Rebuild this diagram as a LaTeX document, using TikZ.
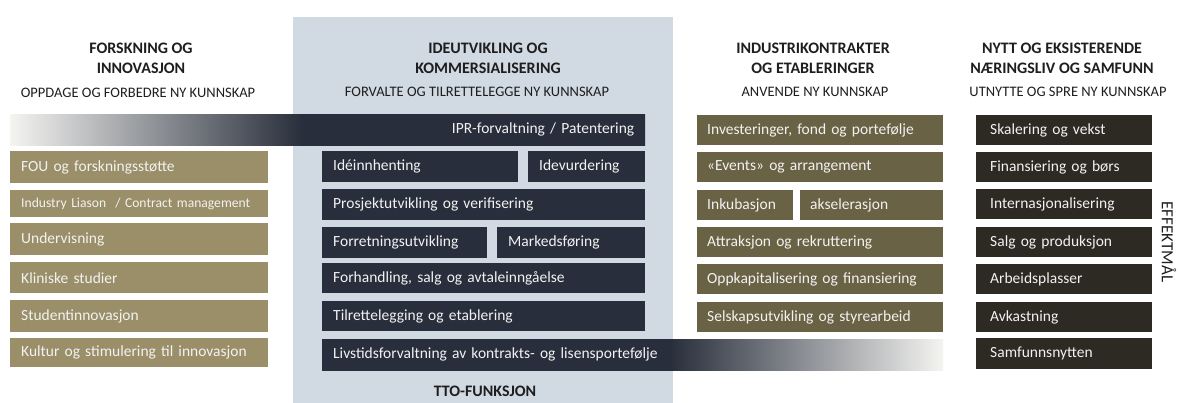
\documentclass[tikz,border=0pt]{standalone}
\usepackage{fontspec}
\setmainfont{Carlito}

\definecolor{headtext}{HTML}{1E1E1E}
\definecolor{boxtext}{HTML}{F2F2F2}
\definecolor{panel}{HTML}{D1D9E3}
\definecolor{ttodark}{HTML}{282E3B}
\definecolor{oliveone}{HTML}{9A8F68}
\definecolor{olivetwo}{HTML}{6A6244}
\definecolor{brownthree}{HTML}{2D2A24}
\definecolor{fadelight}{HTML}{F4F4F1}

\pgfdeclarehorizontalshading{iprfade}{100bp}{color(0bp)=(fadelight); color(25bp)=(fadelight); color(48bp)=(ttodark); color(100bp)=(ttodark)}
\pgfdeclarehorizontalshading{livfade}{100bp}{color(0bp)=(ttodark); color(25bp)=(ttodark); color(53bp)=(ttodark); color(75bp)=(fadelight); color(100bp)=(fadelight)}

\begin{document}
\begin{tikzpicture}[
    x=1pt, y=-1pt,
    head/.style={align=center, text=headtext, font=\bfseries\fontsize{16}{20}\selectfont},
    subhead/.style={text=headtext, font=\fontsize{14.5}{17}\selectfont},
    box/.style={anchor=north west, inner xsep=11pt, inner ysep=0pt, minimum height=30pt,
        align=left, text=boxtext, font=\fontsize{15.5}{18}\selectfont},
    research box/.style={box, fill=oliveone, text width=#1},
    tto box/.style={box, fill=ttodark, text width=#1},
    industry box/.style={box, fill=olivetwo, inner xsep=10pt, text width=#1},
    society box/.style={box, fill=brownthree, inner xsep=14pt, text width=148pt},
    ]
\useasboundingbox (0,0) rectangle (1178,403);
% TTO panel
\fill[panel] (293,17) rectangle (673,403);

% headings
\node[head] (headFoI) at (141,58) {FORSKNING OG\\INNOVASJON};
\node[subhead] (subFoI) at (138,93) {OPPDAGE OG FORBEDRE NY KUNNSKAP};
\node[head] (headIdea) at (488,58) {IDEUTVIKLING OG\\KOMMERSIALISERING};
\node[subhead] (subIdea) at (477,92) {FORVALTE OG TILRETTELEGGE NY KUNNSKAP};
\node[head] (headInd) at (813,58) {INDUSTRIKONTRAKTER\\OG ETABLERINGER};
\node[subhead] (subInd) at (815,92) {ANVENDE NY KUNNSKAP};
\node[head] (headSoc) at (1062,58) {NYTT OG EKSISTERENDE\\NÆRINGSLIV OG SAMFUNN};
\node[subhead] (subSoc) at (1068,92) {UTNYTTE OG SPRE NY KUNNSKAP};

% faded bars
\node[box, shade, shading=iprfade, align=right, text width=613pt, minimum height=31pt] (ipr) at (10,114) {IPR-forvaltning / Patentering};
\node[box, shade, shading=livfade, text width=599pt, minimum height=31pt] (lifetime) at (322,339) {Livstidsforvaltning av kontrakts- og lisensportefølje};

% research and innovation
\node[research box=236pt, minimum height=32pt] (fou) at (10,151) {FOU og forskningsstøtte};
\node[research box=236pt, minimum height=27pt, font=\fontsize{13.6}{15}\selectfont] (liaison) at (10,190) {Industry Liason~ / Contract management};
\node[research box=236pt, minimum height=32pt] (teaching) at (10,223) {Undervisning};
\node[research box=236pt, minimum height=31pt] (clinical) at (10,262) {Kliniske studier};
\node[research box=236pt, minimum height=32pt] (student) at (10,300) {Studentinnovasjon};
\node[research box=236pt, minimum height=29pt] (culture) at (10,338) {Kultur og stimulering til innovasjon};

% tto
\node[tto box=174pt, minimum height=31pt] (ideas) at (322,151) {Idéinnhenting};
\node[tto box=95pt, minimum height=31pt] (assess) at (528,151) {Idevurdering};
\node[tto box=301pt, minimum height=31pt] (project) at (322,189) {Prosjektutvikling og verifisering};
\node[tto box=143pt, minimum height=31pt] (business) at (322,227) {Forretningsutvikling};
\node[tto box=126pt, minimum height=31pt] (marketing) at (497,227) {Markedsføring};
\node[tto box=301pt] (negotiate) at (322,263) {Forhandling, salg og avtaleinngåelse};
\node[tto box=301pt] (facilitate) at (322,301) {Tilrettelegging og etablering};
\node[head] (tto) at (485,391) {TTO-FUNKSJON};

% industry contracts
\node[industry box=226pt] (invest) at (697,115) {Investeringer, fond og portefølje};
\node[industry box=226pt] (events) at (697,152) {«Events» og arrangement};
\node[industry box=76pt] (incubate) at (697,190) {Inkubasjon};
\node[industry box=123pt] (accelerate) at (800,190) {akselerasjon};
\node[industry box=226pt] (attract) at (697,227) {Attraksjon og rekruttering};
\node[industry box=226pt] (capital) at (697,264) {Oppkapitalisering og finansiering};
\node[industry box=226pt] (company) at (697,302) {Selskapsutvikling og styrearbeid};

% business and society
\node[society box] (scale) at (976,115) {Skalering og vekst};
\node[society box] (finance) at (976,152) {Finansiering og børs};
\node[society box] (internat) at (976,189) {Internasjonalisering};
\node[society box] (sales) at (976,227) {Salg og produksjon};
\node[society box] (jobs) at (976,264) {Arbeidsplasser};
\node[society box] (returns) at (976,302) {Avkastning};
\node[society box, minimum height=31pt] (benefit) at (976,338) {Samfunnsnytten};
\node[subhead, rotate=-90, font=\fontsize{17}{20}\selectfont] (effect) at (1169,242) {EFFEKTMÅL};
\end{tikzpicture}
\end{document}
